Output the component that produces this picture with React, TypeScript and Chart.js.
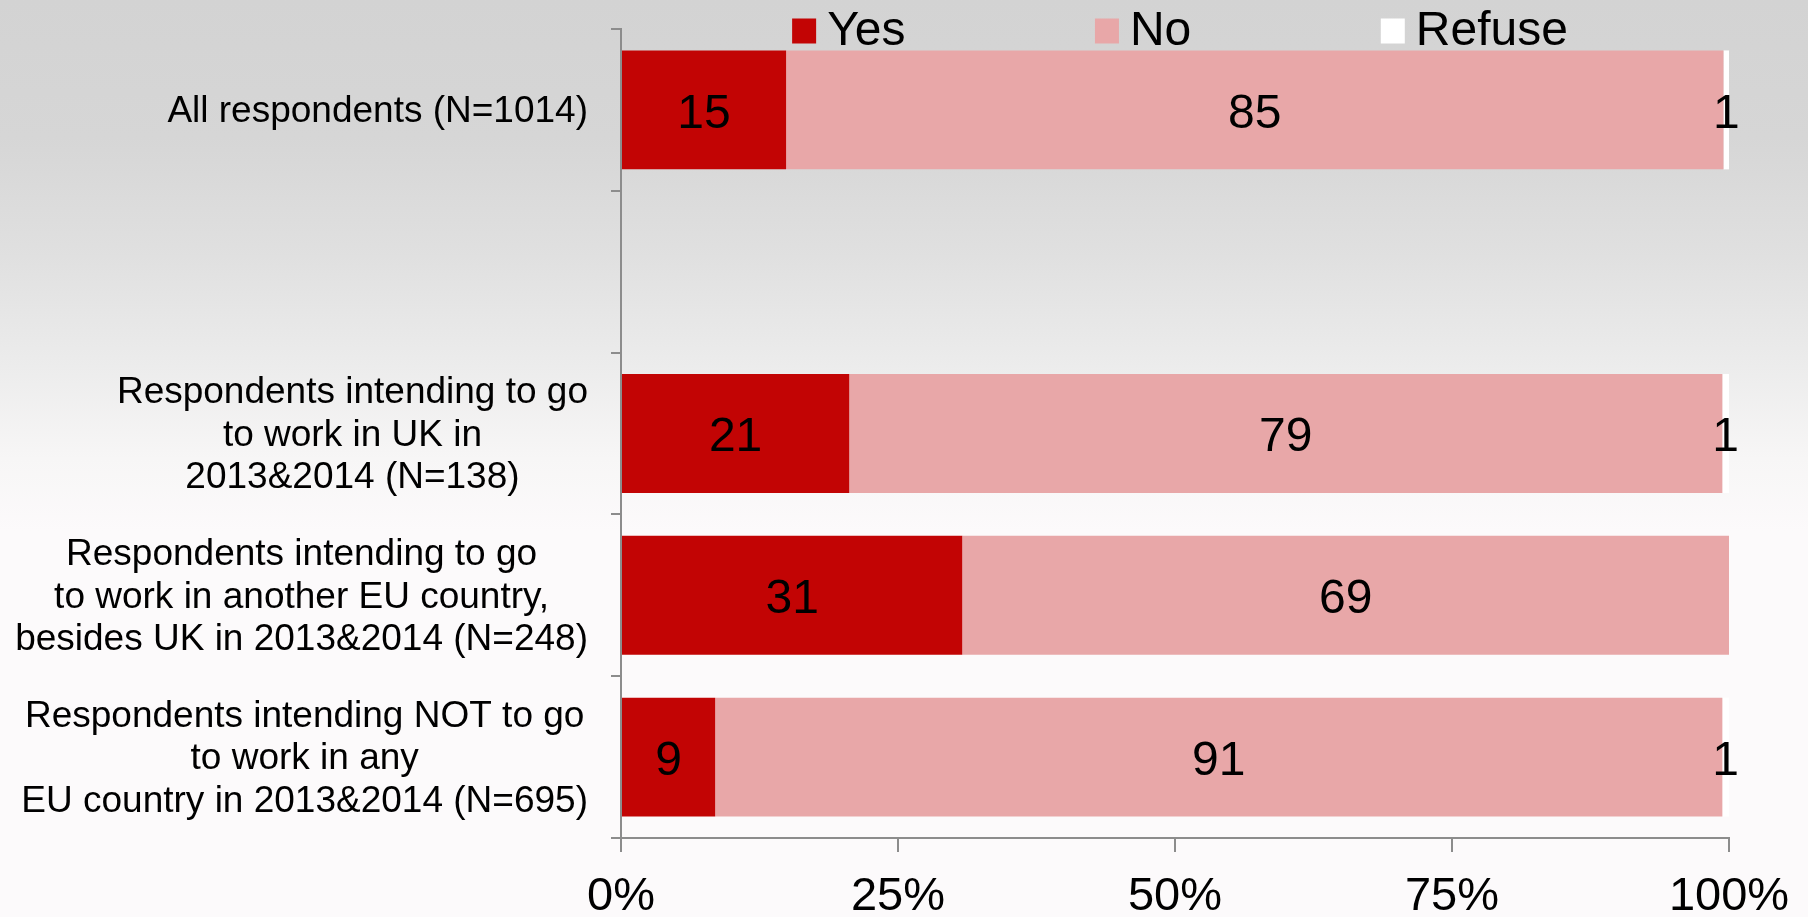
import React, { useEffect, useRef } from "react";
import { Chart, registerables } from "chart.js";

Chart.register(...registerables);

const categoryLines: string[][] = [
  ["All respondents (N=1014)"],
  [""],
  ["Respondents intending to go", "to work in UK in", "2013&2014 (N=138)"],
  ["Respondents intending to go", "to work in another EU country,", "besides UK in 2013&2014 (N=248)"],
  ["Respondents intending NOT to go", "to work in any", "EU country in 2013&2014 (N=695)"],
];
const seriesNames = ["Yes", "No", "Refuse"];
const seriesColors = ["#c20404", "#e8a7a8", "#ffffff"];
const yesValues = [14.9, null, 20.6, 30.8, 8.5];
const noValues = [84.6, null, 78.8, 69.2, 90.9];
const refuseValues = [0.5, null, 0.6, 0, 0.6];
const xTickValues = [0, 25, 50, 75, 100];

const FONT = '"Liberation Sans", Arial, sans-serif';
const AXIS_COLOR = "#8c8c8c";

const categoryLabelPlugin = {
  id: "categoryLabels",
  afterDraw(chart: any) {
    const ctx = chart.ctx;
    const yScale = chart.scales.y;
    const rightEdge = chart.chartArea.left - 33;
    const lineHeight = 42.5;
    ctx.save();
    ctx.font = `37px ${FONT}`;
    ctx.fillStyle = "#000";
    ctx.textAlign = "center";
    ctx.textBaseline = "middle";
    categoryLines.forEach((lines, i) => {
      const yc = yScale.getPixelForValue(i);
      let widest = 0;
      lines.forEach((l) => {
        widest = Math.max(widest, ctx.measureText(l).width);
      });
      const cx = rightEdge - widest / 2;
      const startY = yc - ((lines.length - 1) * lineHeight) / 2;
      lines.forEach((l, j) => {
        ctx.fillText(l, cx, startY + j * lineHeight + 2);
      });
    });
    ctx.restore();
  },
};

const dataLabelPlugin = {
  id: "dataLabels",
  afterDatasetsDraw(chart: any) {
    const ctx = chart.ctx;
    ctx.save();
    ctx.font = `48px ${FONT}`;
    ctx.fillStyle = "#000";
    ctx.textAlign = "center";
    ctx.textBaseline = "middle";
    chart.data.datasets.forEach((ds: any, di: number) => {
      const meta = chart.getDatasetMeta(di);
      meta.data.forEach((el: any, i: number) => {
        const v = ds.data[i];
        if (v === null || v === undefined || v <= 0) return;
        const cx = (el.x + el.base) / 2;
        ctx.fillText(String(Math.round(v)), cx, el.y + 4.5);
      });
    });
    ctx.restore();
  },
};

const legendPlugin = {
  id: "customLegend",
  afterDraw(chart: any) {
    const ctx = chart.ctx;
    const area = chart.chartArea;
    const boxW = 24;
    const boxH = 25;
    const boxGap = 11;
    const itemGap = 189.5;
    const yc = 31;
    ctx.save();
    ctx.font = `48px ${FONT}`;
    ctx.textBaseline = "middle";
    ctx.textAlign = "left";
    const widths = seriesNames.map((n) => boxW + boxGap + ctx.measureText(n).width);
    const total = widths.reduce((a, b) => a + b, 0) + itemGap * (widths.length - 1);
    let x = (area.left + area.right) / 2 - total / 2 + 5;
    seriesNames.forEach((n, i) => {
      ctx.fillStyle = seriesColors[i];
      ctx.fillRect(x, yc - boxH / 2, boxW, boxH);
      ctx.fillStyle = "#000";
      ctx.fillText(n, x + boxW + boxGap, yc + 1);
      x += widths[i] + itemGap;
    });
    ctx.restore();
  },
};

export default function App() {
  const canvasRef = useRef<HTMLCanvasElement | null>(null);

  useEffect(() => {
    document.body.style.margin = "0";
    const canvas = canvasRef.current;
    if (!canvas) return;
    const chart = new Chart(canvas, {
      type: "bar",
      data: {
        labels: categoryLines.map((l) => l.join(" ")),
        datasets: [
          { label: seriesNames[0], data: yesValues, backgroundColor: seriesColors[0] },
          { label: seriesNames[1], data: noValues, backgroundColor: seriesColors[1] },
          { label: seriesNames[2], data: refuseValues, backgroundColor: seriesColors[2] },
        ] as any,
      },
      options: {
        indexAxis: "y",
        responsive: false,
        animation: false,
        devicePixelRatio: 1,
        layout: { padding: { top: 29, right: 79, left: 0, bottom: 0 } },
        datasets: {
          bar: { barPercentage: 0.735, categoryPercentage: 1, borderWidth: 0 },
        } as any,
        plugins: {
          legend: { display: false },
          tooltip: { enabled: false },
        },
        scales: {
          y: {
            type: "category",
            stacked: true,
            offset: true,
            ticks: { display: false },
            grid: {
              display: true,
              offset: true,
              drawOnChartArea: false,
              drawTicks: true,
              tickLength: 10,
              color: AXIS_COLOR,
              lineWidth: 2,
            },
            border: { display: true, color: AXIS_COLOR, width: 2 },
            afterFit(scale: any) {
              scale.width = 621;
            },
          },
          x: {
            type: "linear",
            stacked: true,
            min: 0,
            max: 100,
            afterBuildTicks(scale: any) {
              scale.ticks = xTickValues.map((v) => ({ value: v }));
            },
            ticks: {
              callback: (v: any) => `${v}%`,
              font: { size: 47, family: FONT },
              color: "#000",
              padding: 17,
              maxRotation: 0,
              autoSkip: false,
            },
            grid: {
              display: true,
              drawOnChartArea: false,
              drawTicks: true,
              tickLength: 14,
              color: AXIS_COLOR,
              lineWidth: 2,
            },
            border: { display: true, color: AXIS_COLOR, width: 2 },
            afterFit(scale: any) {
              scale.height = 79;
            },
          },
        },
      } as any,
      plugins: [dataLabelPlugin, categoryLabelPlugin, legendPlugin],
    });
    return () => chart.destroy();
  }, []);

  return (
    <div
      style={{
        position: "fixed",
        left: 0,
        top: 0,
        width: 1808,
        height: 917,
        background:
          "linear-gradient(to bottom, #d3d3d3 0%, #d6d6d6 15%, #e0e0e0 28%, #ececec 40%, #f7f6f6 50%, #fcfafb 58%, #fcfafb 100%)",
      }}
    >
      <canvas ref={canvasRef} width={1808} height={917} style={{ display: "block" }} />
    </div>
  );
}
